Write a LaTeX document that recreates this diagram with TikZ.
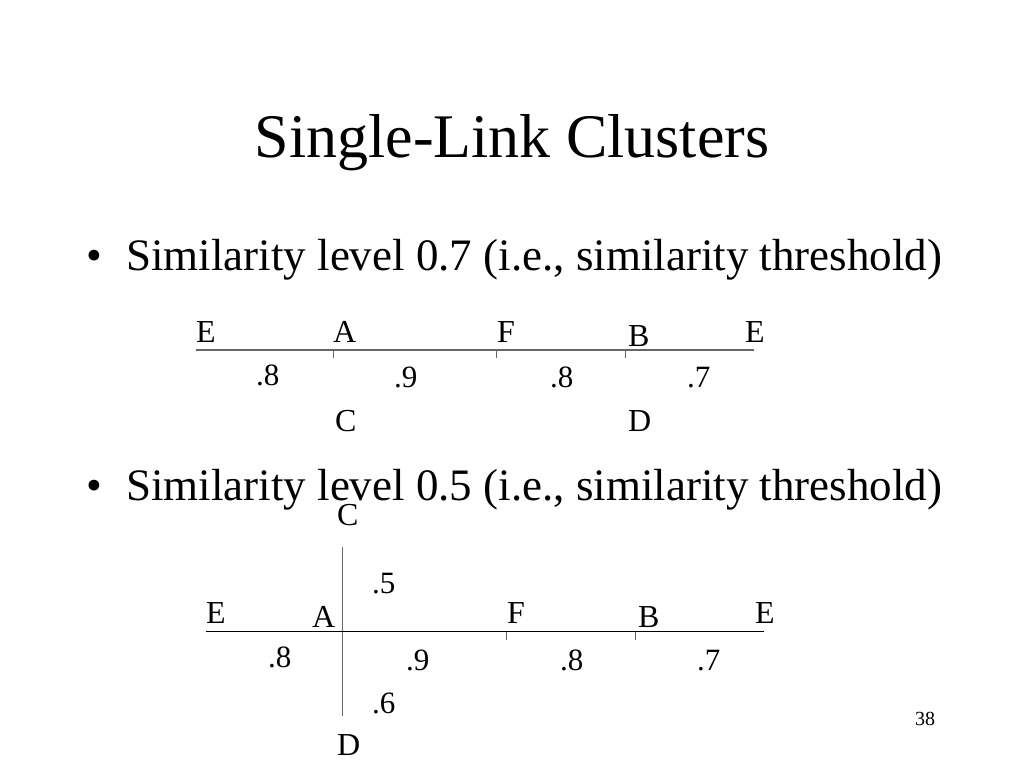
\documentclass[tikz,border=0pt]{standalone}
\usepackage{fontspec}
\setmainfont{Liberation Serif}
\begin{document}
\begin{tikzpicture}[x=1pt, y=-1pt]
    % Styles
    \tikzstyle{title} = [anchor=base, inner sep=0pt, font=\fontsize{62}{62}\selectfont]
    \tikzstyle{bullet} = [anchor=base west, inner sep=0pt, font=\fontsize{45}{45}\selectfont]
    \tikzstyle{leaf} = [anchor=base west, inner sep=0pt, font=\fontsize{32}{32}\selectfont]
    \tikzstyle{sim} = [anchor=base west, inner sep=0pt, font=\fontsize{31}{31}\selectfont]
    \tikzstyle{link} = [draw=black!60, line width=1.4pt]
    \tikzstyle{tick} = [draw=black!60, line width=1pt]

    \useasboundingbox[fill=white] (0, 0) rectangle (1024, 768);

    % Title and bullets
    \node[title] (T) at (512, 157) {Single-Link Clusters};
    \node[bullet] (P1) at (86, 270) {\textbullet};
    \node[bullet] (L1) at (126, 270) {Similarity level 0.7 (i.e., similarity threshold)};
    \node[bullet] (P2) at (86, 500) {\textbullet};
    \node[bullet] (L2) at (126, 500) {Similarity level 0.5 (i.e., similarity threshold)};

    % Level 0.7 - Nodes
    \node[leaf] (E1) at (196, 342) {E};
    \node[leaf] (A1) at (333, 342) {A};
    \node[leaf] (F1) at (497, 342) {F};
    \node[leaf] (B1) at (628, 346) {B};
    \node[leaf] (E1r) at (745, 342) {E};
    \node[leaf] (C1) at (335, 431) {C};
    \node[leaf] (D1) at (628, 431) {D};
    \node[sim] (s1a) at (256, 385) {.8};
    \node[sim] (s1b) at (394, 387) {.9};
    \node[sim] (s1c) at (550, 387) {.8};
    \node[sim] (s1d) at (687, 387) {.7};
    \coordinate (w1) at (196, 350);
    \coordinate (e1) at (754, 350);
    \coordinate (t1a) at (333, 350);
    \coordinate (t1b) at (496.5, 350);
    \coordinate (t1c) at (625, 350);

    % Level 0.7 - Lines
    \draw[link] (w1) -- (e1);
    \foreach \t in {t1a, t1b, t1c}
        \draw[tick] (\t) -- ++(0, 8);

    % Level 0.5 - Nodes
    \node[leaf] (C2) at (337, 525) {C};
    \node[leaf] (D2) at (337, 755) {D};
    \node[leaf] (E2) at (206, 623) {E};
    \node[leaf] (A2) at (312, 627) {A};
    \node[leaf] (F2) at (507, 623) {F};
    \node[leaf] (B2) at (638, 627) {B};
    \node[leaf] (E2r) at (755, 623) {E};
    \node[sim] (s2u) at (372, 593) {.5};
    \node[sim] (s2l) at (372, 713) {.6};
    \node[sim] (s2a) at (268, 667) {.8};
    \node[sim] (s2b) at (406, 670) {.9};
    \node[sim] (s2c) at (560, 670) {.8};
    \node[sim] (s2d) at (697, 670) {.7};
    \coordinate (w2) at (206, 631.7);
    \coordinate (e2) at (764, 631.7);
    \coordinate (n2) at (342.7, 546.7);
    \coordinate (s2) at (342.7, 716);
    \coordinate (t2b) at (506.5, 631.7);
    \coordinate (t2c) at (635, 631.7);

    % Level 0.5 - Lines
    \draw[link] (n2) -- (s2);
    \draw[line width=1.2pt] (w2) -- (e2);
    \foreach \t in {t2b, t2c}
        \draw[tick] (\t) -- ++(0, 8);

    % Page number
    \node[anchor=base west, inner sep=0pt, font=\fontsize{20}{20}\selectfont] (N) at (915, 725) {38};
\end{tikzpicture}
\end{document}
